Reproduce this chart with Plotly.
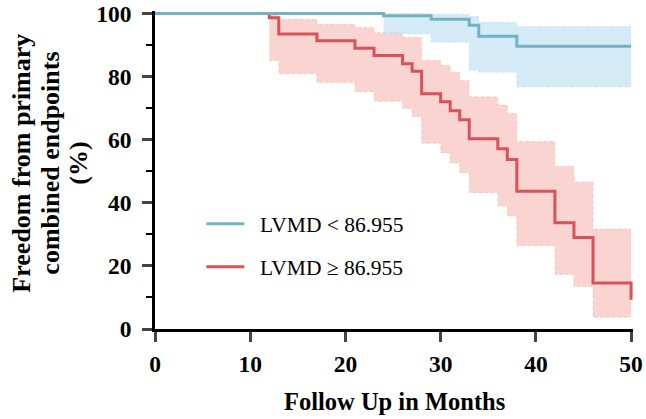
import plotly.graph_objects as go

# ---- data ----
blue_t = [0, 24, 29, 33, 34, 38, 50]
blue_s = [100, 99.3, 98.2, 96.3, 92.8, 89.6, 89.6]
blue_ci_t = [24, 29, 33, 34, 38, 50]
blue_hi = [100, 99.8, 99.1, 97.2, 95.9, 95.9]
blue_lo = [93.5, 90.9, 82.0, 81.4, 76.7, 76.7]

red_t = [0, 12, 13, 17, 21, 23, 26, 27, 28, 30, 31, 32, 33, 36, 37, 38, 42, 44, 46, 50]
red_s = [100, 98.7, 93.5, 91.4, 89.0, 86.7, 84.1, 81.7, 74.6, 72.0, 69.2, 66.3, 60.3, 57.1, 53.7, 43.7, 33.7, 29.0, 14.6, 9.3]
red_ci_t = [12, 13, 17, 21, 23, 26, 27, 28, 30, 31, 32, 33, 36, 37, 38, 42, 44, 46, 50]
red_hi = [99.8, 98.2, 96.6, 95.6, 94.0, 92.5, 92.5, 85.1, 83.6, 81.4, 78.8, 73.6, 71.0, 68.3, 59.4, 51.6, 46.6, 31.7, 31.7]
red_lo = [85.1, 80.9, 78.1, 75.2, 72.2, 69.9, 67.3, 58.9, 55.8, 52.6, 49.5, 43.2, 39.0, 35.8, 26.4, 17.3, 13.5, 3.7, 3.7]

x_ticks = [0, 10, 20, 30, 40, 50]
y_ticks = [0, 20, 40, 60, 80, 100]
labels = ["LVMD < 86.955", "LVMD \u2265 86.955"]
y_title_lines = ["Freedom from primary", "combined endpoints", "(%)"]
x_title = "Follow Up in Months"

BLUE = "#72B3C3"
RED = "#D9525A"
BLUE_FILL = "rgba(195,225,244,0.7)"
RED_FILL = "rgba(245,183,177,0.6)"
FONT = "Liberation Serif"

fig = go.Figure()

def band(t, hi, lo, fill, edge):
    fig.add_trace(go.Scatter(x=t, y=hi, mode="lines", line=dict(shape="hv", width=0.7, color=edge, dash="dot"),
                             showlegend=False, hoverinfo="skip"))
    fig.add_trace(go.Scatter(x=t, y=lo, mode="lines", line=dict(shape="hv", width=0.7, color=edge, dash="dot"),
                             fill="tonexty", fillcolor=fill, showlegend=False, hoverinfo="skip"))

band(red_ci_t, red_hi, red_lo, RED_FILL, "rgba(238,165,155,0.6)")
band(blue_ci_t, blue_hi, blue_lo, BLUE_FILL, "rgba(175,212,236,0.6)")

pad = "\u00a0\u00a0"
fig.add_trace(go.Scatter(x=red_t, y=red_s, mode="lines", name=pad + labels[1], legendgroup="b", legendrank=2,
                         line=dict(shape="hv", width=3, color=RED)))
fig.add_trace(go.Scatter(x=blue_t, y=blue_s, mode="lines", name=pad + labels[0], legendgroup="a", legendrank=1,
                         line=dict(shape="hv", width=3, color=BLUE)))

for i, (txt, px) in enumerate(zip(y_title_lines, [22, 51, 79])):
    fig.add_annotation(text="<b>" + txt + "</b>", xref="paper", yref="paper",
                       x=(px - 155) / 478, y=0.52, textangle=-90, showarrow=False,
                       xanchor="center", yanchor="middle",
                       font=dict(family=FONT, size=26, color="black"))

fig.add_annotation(text="<b>" + x_title + "</b>", xref="paper", yref="paper",
                   x=0.5, y=(329 - 401) / 318, showarrow=False, xanchor="center", yanchor="middle",
                   font=dict(family=FONT, size=24.5, color="black"))

fig.update_layout(
    width=646, height=419,
    margin=dict(l=155, r=13, t=11, b=90, autoexpand=False),
    plot_bgcolor="white", paper_bgcolor="white",
    font=dict(family=FONT, color="black"),
    legend=dict(x=0.097, y=0.395, xanchor="left", yanchor="top", bgcolor="rgba(0,0,0,0)",
                font=dict(family=FONT, size=21.5, color="black"), tracegroupgap=12,
                traceorder="grouped", itemwidth=38),
    xaxis=dict(range=[0, 50.2], tickvals=x_ticks, ticks="outside", ticklen=10, tickwidth=2.5,
               showline=True, linewidth=2.5, linecolor="black", showgrid=False, zeroline=False,
               automargin=False, ticklabelstandoff=2,
               tickfont=dict(family=FONT, size=23.5, color="black", weight="bold")),
    yaxis=dict(range=[0, 100.8], tickvals=y_ticks, ticks="outside", ticklen=10, tickwidth=2.5,
               showline=True, linewidth=2.5, linecolor="black", showgrid=False, zeroline=False,
               automargin=False, ticklabelstandoff=6,
               minor=dict(dtick=10, tick0=0, ticks="outside", ticklen=6, tickwidth=2, tickcolor="black"),
               tickfont=dict(family=FONT, size=23.5, color="black", weight="bold")),
)

fig.write_html("out.html", config={"displayModeBar": False},
               post_script="document.body.style.margin='0px';document.body.style.overflow='hidden';")
